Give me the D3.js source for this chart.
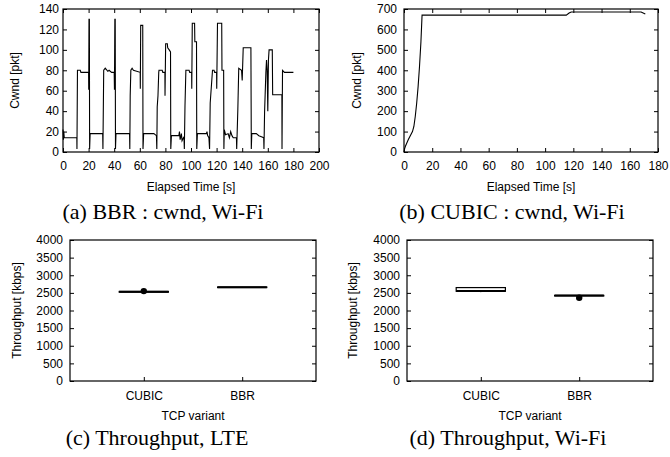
<!DOCTYPE html>
<html>
<head>
<meta charset="utf-8">
<script src="https://cdn.jsdelivr.net/npm/d3@7"></script>
<style>
  html, body { margin: 0; padding: 0; background: #fff; }
  svg { display: block; }
  .tick text { font-family: "Liberation Sans", Arial, sans-serif; font-size: 12px; fill: #000; }
</style>
</head>
<body>
<div id="chart"></div>
<script>
// (a) BBR cwnd over time, Wi-Fi  [seconds, packets]
const bbrCwnd = [
  [0, 22], [0.3, 12], [0.6, 20], [1, 14], [10.8, 14], [10.9, 3], [11.3, 80], [13.5, 80], [14, 78], [20, 78],
  [20.1, 61], [20.3, 130], [20.6, 130], [20.8, 3], [21.2, 18], [31, 18], [31.2, 3], [31.8, 80], [33, 82], [35, 79],
  [36, 80], [38, 78], [40, 78], [40.2, 61], [40.5, 130], [40.8, 130], [41, 3], [41.4, 18], [52, 18], [52.2, 3],
  [52.5, 55], [53, 80], [54, 82], [55, 80], [60.3, 78], [60.4, 62], [60.7, 124], [62.3, 124], [62.5, 3], [63, 18],
  [71, 18], [72, 17], [73, 16], [73.3, 3], [73.6, 44], [74.2, 55], [74.8, 78], [75, 80], [77.5, 80], [78, 78],
  [79.6, 78], [79.7, 55], [80.2, 106], [81.5, 106], [81.8, 102], [83, 100], [84, 98], [84.2, 3], [84.7, 16], [90.5, 16],
  [91, 20], [91.5, 12], [92.5, 18], [93, 11], [94.5, 15], [94.8, 3], [95.3, 45], [96, 80], [98.5, 80], [99, 78],
  [100.5, 78], [100.6, 62], [101, 126], [102.8, 126], [103, 108], [104.3, 108], [104.5, 3], [105, 18], [112, 18], [112.5, 20],
  [113, 16], [114, 14], [114.5, 3], [115, 48], [116.8, 80], [118, 80], [118.5, 78], [120, 78], [120.1, 62], [120.7, 126],
  [124, 126], [124.2, 80], [125.5, 80], [125.7, 3], [126, 22], [127, 17], [129, 18], [130, 14], [131, 20], [132, 16],
  [133, 14], [135.5, 14], [135.7, 3], [136.6, 42], [137.3, 82], [139.5, 80], [140, 70], [140.8, 102], [146.8, 102], [147, 42],
  [147.1, 3], [147.5, 18], [151, 18], [153, 16], [155, 15], [156.8, 14], [157, 3], [157.5, 40], [158.5, 78], [159, 90],
  [159.5, 80], [160, 40], [160.5, 90], [161, 100], [163.5, 100], [163.8, 56], [171, 56], [171.1, 3], [171.5, 80], [173, 78],
  [180, 78]
]

// (b) CUBIC cwnd over time, Wi-Fi
const cubicCwnd = [
  [0, 0], [0.5, 18], [1, 28], [3, 60], [6, 100], [7, 125], [8, 175], [9, 240], [10, 320], [11, 420],
  [12, 540], [12.8, 670], [115, 670], [117, 680], [118.5, 685], [168, 685], [171, 675]
]

// (c)/(d) throughput box plots, kbps
const variants = ['CUBIC', 'BBR']
const lteBoxes = [
  { min: 2515, q1: 2520, median: 2530, q3: 2540, max: 2545, outliers: [2550] },
  { min: 2655, q1: 2658, median: 2662, q3: 2666, max: 2668, outliers: [] }
]
const wifiBoxes = [
  { min: 2520, q1: 2545, median: 2555, q3: 2650, max: 2665, outliers: [] },
  { min: 2415, q1: 2418, median: 2423, q3: 2428, max: 2430, outliers: [2360] }
]

const cwndTicks = d3.range(0, 141, 20)
const cubicTicks = d3.range(0, 701, 100)
const tputTicks = d3.range(0, 4001, 500)

const W = 670, H = 457
const svg = d3.select('#chart').append('svg').attr('width', W).attr('height', H)

const sans = '"Liberation Sans", Arial, sans-serif'
const serif = '"Liberation Serif", "Times New Roman", serif'

function frame(x, y, w, h) {
  svg.append('rect').attr('x', x).attr('y', y).attr('width', w).attr('height', h)
    .attr('fill', 'none').attr('stroke', '#000').attr('stroke-width', 1.2)
}

function labels(box, xTitle, yTitle, yTitleX, caption, captionX, captionY) {
  const cx = (box.x0 + box.x1) / 2
  svg.append('text').attr('x', cx).attr('y', box.y1 + 39)
    .attr('text-anchor', 'middle').style('font-family', sans).style('font-size', '12px').text(xTitle)
  svg.append('text').attr('transform', `translate(${yTitleX},${(box.y0 + box.y1) / 2}) rotate(-90)`)
    .attr('text-anchor', 'middle').attr('dy', '0.35em')
    .style('font-family', sans).style('font-size', '12px').text(yTitle)
  svg.append('text').attr('x', captionX).attr('y', captionY)
    .attr('text-anchor', 'middle').style('font-family', serif).style('font-size', '22px').text(caption)
}

function axesFor(box, xScale, yScale, xTicks, yTicks, xFmt, mirrorX, padX, padY) {
  const tick = 4
  svg.append('g').attr('transform', `translate(0,${box.y1})`)
    .call(d3.axisBottom(xScale).tickValues(xTicks).tickSize(-tick).tickPadding(padX).tickFormat(xFmt))
  svg.append('g').attr('transform', `translate(${box.x0},0)`)
    .call(d3.axisLeft(yScale).tickValues(yTicks).tickSize(-tick).tickPadding(padY).tickFormat(d3.format('d')))
  svg.append('g').attr('transform', `translate(${box.x1},0)`)
    .call(d3.axisRight(yScale).tickValues(yTicks).tickSize(-tick).tickFormat(''))
  if (mirrorX) {
    svg.append('g').attr('transform', `translate(0,${box.y0})`)
      .call(d3.axisTop(xScale).tickValues(xTicks).tickSize(-tick).tickFormat(''))
  }
  svg.selectAll('.domain').remove()
  svg.selectAll('.tick line').attr('stroke', '#000')
  frame(box.x0, box.y0, box.x1 - box.x0, box.y1 - box.y0)
}

function linePanel(box, data, xMax, xTicks, yMax, yTicks, caption, captionX, padY, yTitleOff) {
  const x = d3.scaleLinear().domain([0, xMax]).range([box.x0, box.x1])
  const y = d3.scaleLinear().domain([0, yMax]).range([box.y1, box.y0])
  svg.append('path').datum(data)
    .attr('fill', 'none').attr('stroke', '#000').attr('stroke-width', 1.1)
    .attr('d', d3.line().x(d => x(d[0])).y(d => y(d[1])))
  axesFor(box, x, y, xTicks, yTicks, d3.format('d'), true, 9, padY)
  labels(box, 'Elapsed Time [s]', 'Cwnd [pkt]', box.x0 - yTitleOff, caption, captionX, 219)
}

function boxPanel(box, stats, caption, captionX, yTitleOff) {
  const x = d3.scaleLinear().domain([0.25, 2.75]).range([box.x0, box.x1])
  const y = d3.scaleLinear().domain([0, 4000]).range([box.y1, box.y0])
  const half = 0.25
  stats.forEach((s, i) => {
    const cx = i + 1
    const g = svg.append('g').attr('stroke', '#000').attr('fill', 'none')
    g.append('rect').attr('x', x(cx - half)).attr('width', x(cx + half) - x(cx - half))
      .attr('y', y(s.q3)).attr('height', Math.max(0.5, y(s.q1) - y(s.q3))).attr('stroke-width', 1.2)
    g.append('line').attr('x1', x(cx - half)).attr('x2', x(cx + half))
      .attr('y1', y(s.median)).attr('y2', y(s.median)).attr('stroke-width', 2)
    g.append('line').attr('x1', x(cx)).attr('x2', x(cx)).attr('y1', y(s.max)).attr('y2', y(s.q3))
    g.append('line').attr('x1', x(cx)).attr('x2', x(cx)).attr('y1', y(s.q1)).attr('y2', y(s.min))
    s.outliers.forEach(o => {
      svg.append('circle').attr('cx', x(cx)).attr('cy', y(o)).attr('r', 3.2).attr('fill', '#000')
    })
  })
  axesFor(box, x, y, [1, 2], tputTicks, (d, i) => variants[i], false, 10, 7)
  labels(box, 'TCP variant', 'Throughput [kbps]', box.x0 - yTitleOff, caption, captionX, 445)
}

linePanel({ x0: 63, x1: 319, y0: 9, y1: 152 }, bbrCwnd, 200, d3.range(0, 201, 20), 140, cwndTicks,
  '(a) BBR : cwnd, Wi-Fi', 163, 4, 48)
linePanel({ x0: 404, x1: 658, y0: 9, y1: 152 }, cubicCwnd, 180, d3.range(0, 181, 20), 700, cubicTicks,
  '(b) CUBIC : cwnd, Wi-Fi', 512, 7, 47)
boxPanel({ x0: 70, x1: 316, y0: 240, y1: 381 }, lteBoxes, '(c) Throughput, LTE', 157, 53)
boxPanel({ x0: 407, x1: 653, y0: 240, y1: 381 }, wifiBoxes, '(d) Throughput, Wi-Fi', 508, 54)
</script>
</body>
</html>
